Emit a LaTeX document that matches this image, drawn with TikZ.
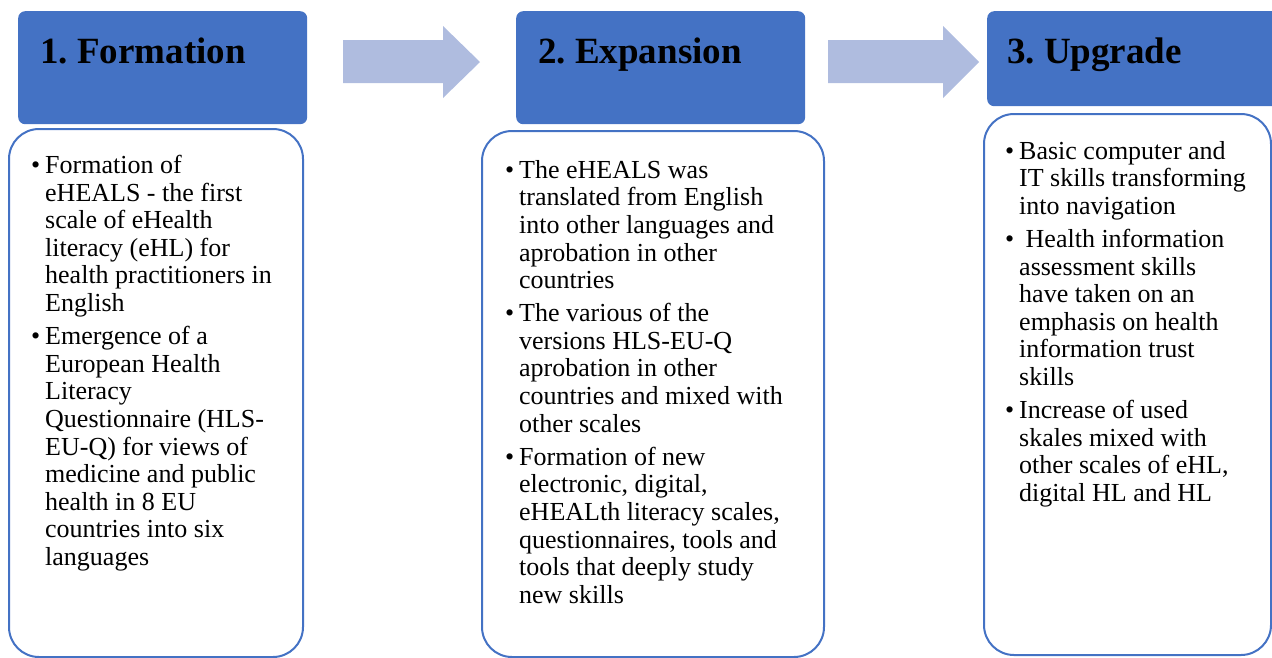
\documentclass[tikz,border=0pt]{standalone}
\usepackage{fontspec}
\setmainfont{Liberation Serif}
\frenchspacing
\definecolor{bleu}{HTML}{4472C4}
\definecolor{bleuclair}{HTML}{AFBCDF}
\tikzset{
	entete/.style={fill=bleu, rounded corners=7pt, anchor=north west, inner sep=0pt},
	cadre/.style={draw=bleu, line width=2pt, rounded corners=30pt, anchor=north west, inner sep=0pt},
	titre/.style={font=\fontsize{37}{44}\selectfont\bfseries, anchor=base west, inner sep=0pt},
	texte/.style={font=\fontsize{26}{27.6}\selectfont, align=left, anchor=north west, inner sep=0pt},
	fleche/.style={fill=bleuclair}
}
\newcommand\puce{\llap{\textbullet\hspace{5pt}}}
\begin{document}
\begin{tikzpicture}[x=1pt,y=-1pt]
	% Cadre de l'image
	\useasboundingbox (0,0) rectangle (1272,657);
	% Fleches entre les etapes
	\foreach \xa/\xb/\xc in {343/443/480, 828/943/979}
		\fill[fleche] (\xa,40) -- (\xb,40) -- (\xb,26) -- (\xc,62) -- (\xb,98) -- (\xb,83) -- (\xa,83) -- cycle;
	% Entetes
	\node[entete, minimum width=289pt, minimum height=113pt] (h1) at (18,11) {};
	\node[entete, minimum width=289pt, minimum height=113pt] (h2) at (516,11) {};
	\node[entete, minimum width=300pt, minimum height=95pt] (h3) at (987,11) {};
	\node[titre] (l1) at (40,63) {1. Formation};
	\node[titre] (l2) at (538,63) {2. Expansion};
	\node[titre] (l3) at (1007,63) {3. Upgrade};
	% Cadres du texte
	\node[cadre, minimum width=294pt, minimum height=528pt] (b1) at (8,128) {};
	\node[cadre, minimum width=342pt, minimum height=526pt] (b2) at (481,130) {};
	\node[cadre, minimum width=287pt, minimum height=541pt] (b3) at (983,113) {};
	% Textes
	\node[texte] (t1) at (45,155) {\puce Formation of\\ eHEALS - the first\\ scale of eHealth\\ literacy (eHL) for\\ health practitioners in\\ English\\[5.5pt]
		\puce Emergence of a\\ European Health\\ Literacy\\ Questionnaire (HLS-\\ EU-Q) for views of\\ medicine and public\\ health in 8 EU\\ countries into six\\ languages};
	\node[texte] (t2) at (519,160) {\puce The eHEALS was\\ translated from English\\ into other languages and\\ aprobation in other\\ countries\\[5.5pt]
		\puce The various of the\\ versions HLS-EU-Q\\ aprobation in other\\ countries and mixed with\\ other scales\\[5.5pt]
		\puce Formation of new\\ electronic, digital,\\ eHEALth literacy scales,\\ questionnaires, tools and\\ tools that deeply study\\ new skills};
	\node[texte] (t3) at (1019,141) {\puce Basic computer and\\ IT skills transforming\\ into navigation\\[5.5pt]
		\puce\ Health information\\ assessment skills\\ have taken on an\\ emphasis on health\\ information trust\\ skills\\[5.5pt]
		\puce Increase of used\\ skales mixed with\\ other scales of eHL,\\ digital HL and HL};
\end{tikzpicture}
\end{document}
